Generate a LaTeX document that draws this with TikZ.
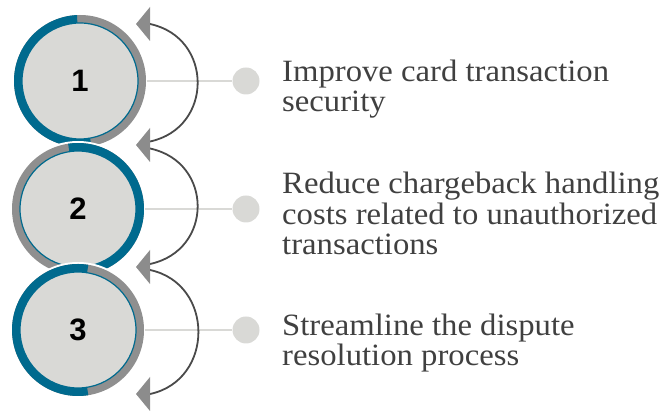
\documentclass[tikz,border=0pt]{standalone}
\usepackage{fontspec}
\setmainfont{Liberation Serif}[FakeStretch=1.055]
\newfontfamily\numfont{Liberation Sans}
\definecolor{ringteal}{HTML}{006A8E}
\definecolor{ringgray}{HTML}{8F8F8F}
\definecolor{discfill}{HTML}{D9D9D6}
\definecolor{arcgray}{HTML}{4A4A4A}
\definecolor{headgray}{HTML}{8C8C8C}
\definecolor{txtgray}{HTML}{404040}

% two-tone ring behind a numbered disc: centre, teal start angle, teal end angle
\newcommand\tworing[3]{%
  \fill[white] (#1) circle[radius=68];
  \fill[ringgray] (#1) circle[radius=66];
  \fill[ringteal] (#1) -- ++(#2:66) arc[start angle=#2, end angle=#3, radius=66] -- cycle;
}

\begin{document}
\begin{tikzpicture}[x=1pt,y=1pt,
  disc/.style={circle, draw=ringteal, line width=1.2pt, fill=discfill,
    minimum size=116pt, inner sep=0pt, text=black,
    font=\numfont\bfseries\fontsize{31}{31}\selectfont},
  dot/.style={circle, fill=discfill, minimum size=27pt, inner sep=0pt},
  link/.style={draw=discfill, line width=1.8pt},
  cyc/.style={draw=arcgray, line width=1.8pt},
  head/.style={fill=headgray},
  goal/.style={anchor=base west, align=left, inner sep=0pt, text=txtgray,
    font=\fontsize{31}{30.5}\selectfont}]
\useasboundingbox (0,0) rectangle (662,-411);

% disc centres
\coordinate (p1) at (80,-81);
\coordinate (p2) at (78,-209);
\coordinate (p3) at (78,-330);

% numbered discs, each overlapping the one above
\tworing{p1}{92.6}{280}
\node[disc] (c1) at (p1) {1};
\tworing{p2}{-95}{98.6}
\node[disc] (c2) at (p2) {2};
\tworing{p3}{81}{279}
\node[disc] (c3) at (p3) {3};

% markers and leader lines
\node[dot] (d1) at (246,-81) {};
\node[dot] (d2) at (246,-209) {};
\node[dot] (d3) at (246,-330) {};
\draw[link] ([xshift=8pt]c1.east) -- (d1);
\draw[link] ([xshift=8pt]c2.east) -- (d2);
\draw[link] ([xshift=8pt]c3.east) -- (d3);

% cycle arrows on the right
\coordinate (h1) at (150,-24);
\coordinate (h2) at (150,-145);
\coordinate (h3) at (150,-267);
\coordinate (h4) at (150,-394);
\draw[cyc] (h1) .. controls +(-12:65) and +(12:65) .. ([yshift=3.5pt]h2);
\draw[cyc] ([yshift=-3.5pt]h2) .. controls +(-12:65) and +(12:65) .. ([yshift=3pt]h3);
\draw[cyc] ([yshift=-3pt]h3) .. controls +(-12:66) and +(12:66) .. (h4);
\foreach \h in {h1,h2,h3,h4}
  \fill[head] (\h) ++(0,17) -- ++(-14,-17) -- ++(14,-17) -- cycle;

% goals (base anchor sits on the last line)
\node[goal] (t1) at (282,-112) {Improve card transaction\\security};
\node[goal] (t2) at (282,-255) {Reduce chargeback handling\\costs related to unauthorized\\transactions};
\node[goal] (t3) at (282,-366) {Streamline the dispute\\resolution process};
\end{tikzpicture}
\end{document}
